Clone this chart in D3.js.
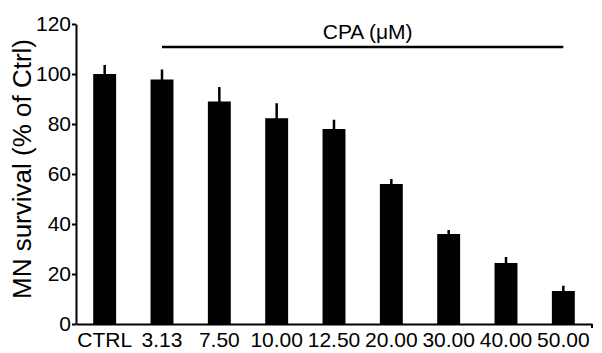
<!DOCTYPE html>
<html><head><meta charset="utf-8">
<script src="https://cdn.jsdelivr.net/npm/d3@7"></script>
<style>html,body{margin:0;padding:0;background:#fff;}svg{display:block;}</style>
</head><body>
<svg id="chart" width="602" height="353"></svg>
<script>
const categories = ["CTRL","3.13","7.50","10.00","12.50","20.00","30.00","40.00","50.00"];
const values = [100, 97.8, 89, 82.3, 78, 56, 36, 24.4, 13.2];
const errors = [3.6, 4, 5.8, 6, 3.7, 2, 1.6, 2.4, 2.1];
const yTicks = [0, 20, 40, 60, 80, 100, 120];
const yTitle = "MN survival (% of Ctrl)";
const bracketLabel = "CPA (\u03BCM)";

const svg = d3.select("#chart");
const font = "'Liberation Sans', Arial, Helvetica, sans-serif";
const x = d3.scaleBand().domain(categories).range([76, 592]).paddingInner(0.6).paddingOuter(0.3);
const y = d3.scaleLinear().domain([0, 120]).range([324, 24]);

// bars
svg.selectAll("rect.bar").data(categories).join("rect")
  .attr("class","bar")
  .attr("x", d => x(d)).attr("width", x.bandwidth())
  .attr("y", (d,i) => y(values[i])).attr("height", (d,i) => y(0) - y(values[i]))
  .attr("fill","#000");

// error bars
svg.selectAll("line.err").data(categories).join("line")
  .attr("class","err")
  .attr("x1", d => x(d) + x.bandwidth()/2).attr("x2", d => x(d) + x.bandwidth()/2)
  .attr("y1", (d,i) => y(values[i]) + 1).attr("y2", (d,i) => y(values[i] + errors[i]))
  .attr("stroke","#000").attr("stroke-width", 2.5);

// y axis
const yAxis = svg.append("g").attr("transform","translate(76,0)")
  .call(d3.axisLeft(y).tickValues(yTicks).tickSize(4).tickPadding(1).tickSizeOuter(0));
yAxis.select(".domain").attr("stroke","#000").attr("stroke-width",2);
yAxis.selectAll(".tick line").attr("stroke","#000").attr("stroke-width",2);
yAxis.selectAll(".tick text").attr("font-family", font).attr("font-size", 21).attr("fill","#000");

// x axis
const xAxis = svg.append("g").attr("transform","translate(0,324)")
  .call(d3.axisBottom(x).tickSize(0).tickPadding(8).tickSizeOuter(0));
xAxis.select(".domain").attr("stroke","#000").attr("stroke-width",2);
xAxis.selectAll(".tick text").attr("font-family", font).attr("font-size", 21).attr("fill","#000")
  .attr("dy","0.71em");
svg.append("line").attr("x1", x.range()[1]).attr("x2", x.range()[1])
  .attr("y1", y(0)).attr("y2", y(0) + 4).attr("stroke","#000").attr("stroke-width",2);

// y title
svg.append("text")
  .attr("transform", `translate(31,${(y(0)+y(120))/2 - 5}) rotate(-90)`)
  .attr("text-anchor","middle")
  .attr("font-family", font).attr("font-size", 26).attr("fill","#000")
  .text(yTitle);

// bracket
const bx1 = x(categories[1]) + x.bandwidth()/2;
const bx2 = x(categories[categories.length-1]) + x.bandwidth()/2;
svg.append("line").attr("x1", bx1).attr("x2", bx2).attr("y1", y(110.8)).attr("y2", y(110.8))
  .attr("stroke","#000").attr("stroke-width",2.5);
svg.append("text").attr("x", (bx1+bx2)/2 + 5).attr("y", 39)
  .attr("text-anchor","middle").attr("font-family", font).attr("font-size", 21).attr("fill","#000")
  .text(bracketLabel);
</script>
</body></html>
